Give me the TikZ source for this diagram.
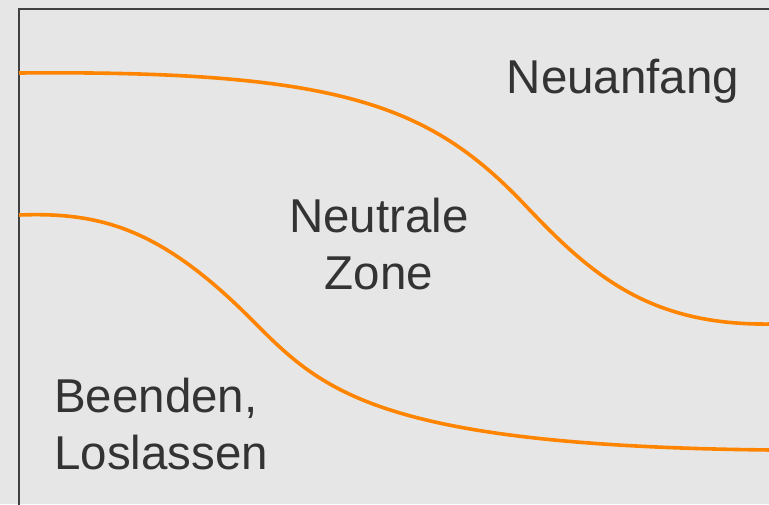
\documentclass[tikz,border=0pt]{standalone}
\usepackage{fontspec}
\setmainfont{Liberation Sans}
\definecolor{bg}{HTML}{E6E6E6}
\definecolor{frame}{HTML}{404040}
\definecolor{curve}{HTML}{FF8500}
\definecolor{txt}{HTML}{333333}
\tikzset{
  lbl/.style={inner sep=0pt, text=txt, font=\fontsize{47.5}{57}\selectfont, align=center},
  phase/.style={draw=curve, line width=3.6pt},
  border/.style={draw=frame, line width=2.2pt}
}
\begin{document}
\begin{tikzpicture}[x=1pt,y=-1pt]
\useasboundingbox (0,0) rectangle (769,504);
\fill[bg] (0,0) rectangle (769,504);
\coordinate (tr) at (772,9);
\coordinate (tl) at (19,9);
\coordinate (bl) at (19,507);
\draw[border] (tr) -- (tl) -- (bl);
\coordinate (a0) at (19,73);
\coordinate (a1) at (525,205);
\coordinate (a2) at (772,324);
\draw[phase] (a0) .. controls (340,70) and (430,105) .. (a1)
  .. controls (592,276) and (650,326) .. (a2);
\coordinate (b0) at (19,215);
\coordinate (b1) at (250,318);
\coordinate (b2) at (772,450);
\draw[phase] (b0) .. controls (100,212) and (160,228) .. (b1)
  .. controls (320,388) and (370,446) .. (b2);
\node[lbl, anchor=base] (neu) at (623,93) {Neuanfang};
\node[lbl] (neutral) at (379,244.5) {Neutrale\\Zone};
\node[lbl, anchor=west, align=left] (beenden) at (54,424.5) {Beenden,\\Loslassen};
\end{tikzpicture}
\end{document}
